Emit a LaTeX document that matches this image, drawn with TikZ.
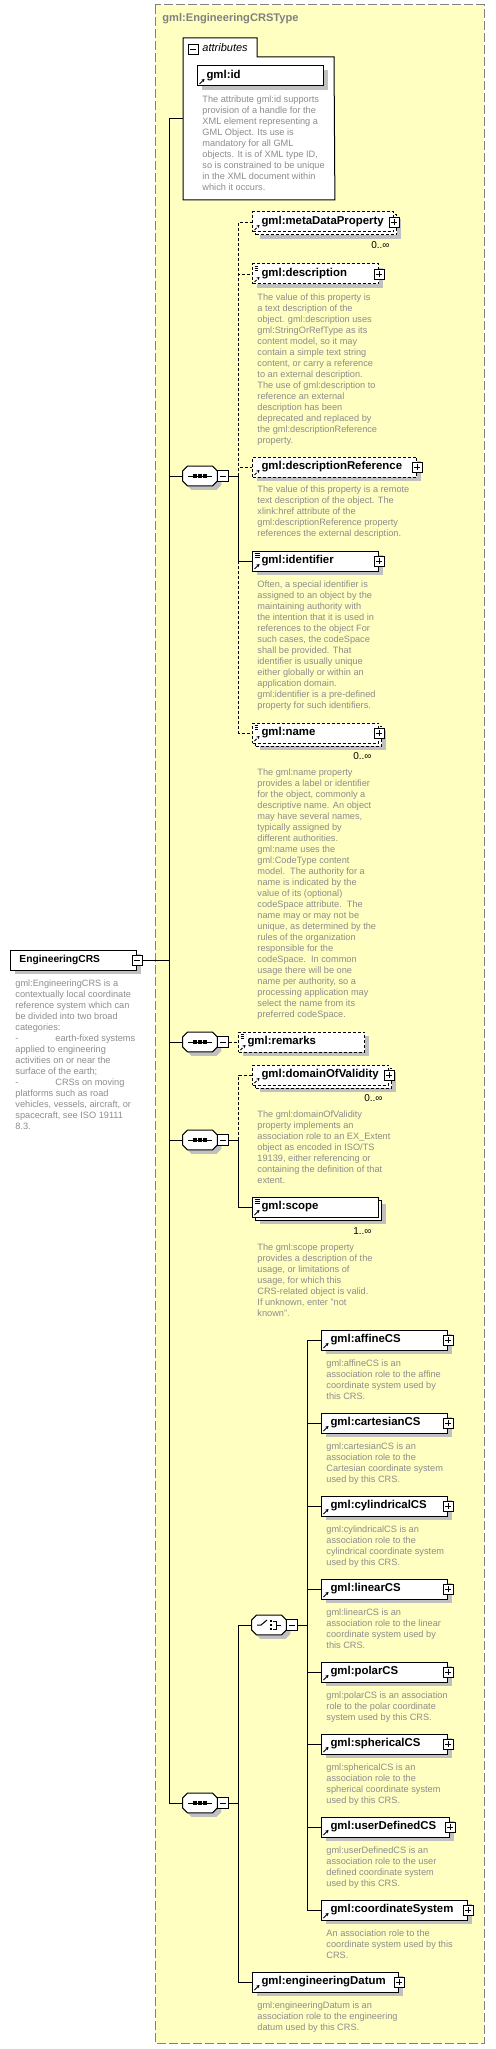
\documentclass[tikz,border=0pt]{standalone}
\usepackage{fontspec}
\setmainfont{Liberation Sans}
\usetikzlibrary{arrows.meta,shadows}
\definecolor{cttype}{RGB}{255,255,194}
\definecolor{docgray}{RGB}{140,140,140}
\definecolor{shgray}{RGB}{192,192,192}
\begin{document}
\begin{tikzpicture}[x=1pt,y=-1pt,line width=0.9pt,
 opt/.style={dash pattern=on 3pt off 2pt},
 elbase/.style={draw,fill=white,line width=1pt,anchor=west,minimum height=20pt,
  inner xsep=9pt,inner ysep=0pt,align=left,font=\fontsize{11.4}{13}\selectfont\bfseries},
 sh/.style={drop shadow={shadow xshift=4pt,shadow yshift=-4pt,fill=shgray,opacity=1}},
 shm/.style={general shadow={fill=shgray,shadow xshift=7pt,shadow yshift=-7pt},
  general shadow={draw=black,fill=white,shadow xshift=3pt,shadow yshift=-3pt}},
 ref/.style={path picture={\draw[-{Stealth[length=3pt,width=3.5pt]},line width=0.9pt]
  ([shift={(2pt,2pt)}]path picture bounding box.south west) -- ++(5pt,5pt);}},
 refdoc/.style={path picture={\draw[-{Stealth[length=3pt,width=3.5pt]},line width=0.9pt]
  ([shift={(2pt,2pt)}]path picture bounding box.south west) -- ++(5pt,5pt);
  \draw[line width=0.6pt] \foreach \k in {2,4,6} {([shift={(2pt,-\k pt)}]path picture bounding box.north west) -- ++(5pt,0pt)};}},
 el/.style={elbase,sh,ref},
 eld/.style={elbase,sh,refdoc},
 elm/.style={elbase,shm,ref},
 elmd/.style={elbase,shm,refdoc},
 plusb/.style={draw,fill=white,line width=0.8pt,minimum size=10pt,inner sep=0pt,
  path picture={\draw[line width=0.8pt] ([xshift=-3pt]path picture bounding box.center) -- ([xshift=3pt]path picture bounding box.center)
   ([yshift=-3pt]path picture bounding box.center) -- ([yshift=3pt]path picture bounding box.center);}},
 minusb/.style={draw,fill=white,line width=0.8pt,minimum size=10pt,inner sep=0pt,
  path picture={\draw[line width=0.8pt] ([xshift=-3pt]path picture bounding box.center) -- ([xshift=3pt]path picture bounding box.center);}},
 seqb/.style={minimum width=34pt,minimum height=19pt,inner sep=0pt},
 desc/.style={anchor=north west,align=left,inner sep=0pt,text=docgray,font=\fontsize{9.2}{11}\selectfont},
 occ/.style={anchor=east,inner sep=0pt,font=\fontsize{10}{12}\selectfont}]
\useasboundingbox (0,0) rectangle (495,2049);
\draw[draw=gray,line width=1pt,dash pattern=on 9pt off 3pt,fill=cttype] (155,5) rectangle (484,2043);
\node[anchor=west,inner sep=0pt,text=gray,font=\fontsize{11.1}{13}\selectfont\bfseries] (ctname) at (162,19) {gml:EngineeringCRSType};

\node[minimum width=151pt,minimum height=161pt,inner sep=0pt,anchor=north west] (attrs) at (183,38) {};
\draw[line width=1pt,fill=white] (attrs.south west) -- (attrs.north west) -- (257,38) -- (257,57) -- (334,57) -- (attrs.south east) -- cycle;
\node[minusb] (attrm) at (193,49) {};
\node[anchor=west,inner sep=0pt,font=\fontsize{11}{13}\selectfont\itshape] (attrt) at (202,48) {attributes};
\node[el,text width=108pt] (gid) at (197,76) {gml:id};
\node[desc] (gidd) at (202,95) {The attribute gml:id supports\\provision of a handle for the\\XML element representing a\\GML Object. Its use is\\mandatory for all GML\\objects. It is of XML type ID,\\so is constrained to be unique\\in the XML document within\\which it occurs.};

\node[elbase,sh,text width=108pt,font=\fontsize{10.2}{12}\selectfont\bfseries] (crs) at (10,960) {EngineeringCRS};
\node[minusb] (crsm) at (crs.east) {};
\node[desc] (crsd) at (15,979) {gml:EngineeringCRS is a\\contextually local coordinate\\reference system which can\\be divided into two broad\\categories:\\\makebox[40pt][l]{-}earth-fixed systems\\applied to engineering\\activities on or near the\\surface of the earth;\\\makebox[40pt][l]{-}CRSs on moving\\platforms such as road\\vehicles, vessels, aircraft, or\\spacecraft, see ISO 19111\\8.3.};

\node[seqb] (seq1) at (200,476) {};
\node[seqb] (seq2) at (200,1042) {};
\node[seqb] (seq3) at (200,1140) {};
\node[seqb] (seq4) at (200,1803) {};
\node[seqb] (cho) at (269,1625) {};
\foreach \s in {seq1,seq2,seq3,seq4,cho} {
 \fill[shgray,transform canvas={shift={(4pt,-4pt)}}] ([xshift=5pt]\s.north west) -- ([xshift=-5pt]\s.north east) -- ([yshift=-5pt]\s.north east) -- ([yshift=5pt]\s.south east) -- ([xshift=-5pt]\s.south east) -- ([xshift=5pt]\s.south west) -- ([yshift=5pt]\s.south west) -- ([yshift=-5pt]\s.north west) -- cycle;
 \draw[line width=1pt,fill=white] ([xshift=5pt]\s.north west) -- ([xshift=-5pt]\s.north east) -- ([yshift=-5pt]\s.north east) -- ([yshift=5pt]\s.south east) -- ([xshift=-5pt]\s.south east) -- ([xshift=5pt]\s.south west) -- ([yshift=5pt]\s.south west) -- ([yshift=-5pt]\s.north west) -- cycle;
}
\foreach \s in {seq1,seq2,seq3,seq4} {
 \draw[line width=1pt] (\s.center) +(-12pt,0pt) -- +(12pt,0pt);
 \foreach \d in {-5,0,5} \fill ([xshift=\d pt]\s.center) +(-1.7pt,-1.7pt) rectangle +(1.7pt,1.7pt);
}
\draw[line width=1pt] (cho.center) +(-12pt,0pt) -- +(-8pt,0pt) -- +(-2pt,5pt);
\foreach \d in {-4,0,4} \fill ([shift={(2pt,\d pt)}]cho.center) +(-1.3pt,-1.3pt) rectangle +(1.3pt,1.3pt);
\draw[line width=0.9pt] (cho.center) +(3.5pt,4pt) -- +(7pt,4pt) -- +(7pt,-4pt) -- +(3.5pt,-4pt) +(7pt,0pt) -- +(12pt,0pt);
\foreach \s/\m in {seq1/s1m,seq2/s2m,seq3/s3m,seq4/s4m,cho/chom}
 \node[minusb,minimum size=11pt,anchor=west] (\m) at (\s.east) {};

\node[elm,opt,text width=123pt] (meta) at (252,222) {gml:metaDataProperty};
\node[plusb] (metap) at (meta.east) {};
\node[occ] (metao) at (390,245) {0..∞};
\node[eld,opt,text width=108pt] (descr) at (252,274) {gml:description};
\node[plusb] (descrp) at (descr.east) {};
\node[desc] (descrd) at (257,293) {The value of this property is\\a text description of the\\object. gml:description uses\\gml:StringOrRefType as its\\content model, so it may\\contain a simple text string\\content, or carry a reference\\to an external description.\\The use of gml:description to\\reference an external\\description has been\\deprecated and replaced by\\the gml:descriptionReference\\property.};
\node[el,opt,text width=146pt] (dref) at (252,467) {gml:descriptionReference};
\node[plusb] (drefp) at (dref.east) {};
\node[desc] (drefd) at (257,485) {The value of this property is a remote\\text description of the object. The\\xlink:href attribute of the\\gml:descriptionReference property\\references the external description.};
\node[eld,text width=108pt] (ident) at (252,561) {gml:identifier};
\node[plusb] (identp) at (ident.east) {};
\node[desc] (identd) at (257,580) {Often, a special identifier is\\assigned to an object by the\\maintaining authority with\\the intention that it is used in\\references to the object For\\such cases, the codeSpace\\shall be provided. That\\identifier is usually unique\\either globally or within an\\application domain.\\gml:identifier is a pre-defined\\property for such identifiers.};
\node[elmd,opt,text width=108pt] (name) at (252,733) {gml:name};
\node[plusb] (namep) at (name.east) {};
\node[occ] (nameo) at (372,756) {0..∞};
\node[desc] (named) at (257,768) {The gml:name property\\provides a label or identifier\\for the object, commonly a\\descriptive name. An object\\may have several names,\\typically assigned by\\different authorities.\\gml:name uses the\\gml:CodeType content\\model.\ \ The authority for a\\name is indicated by the\\value of its (optional)\\codeSpace attribute.\ \ The\\name may or may not be\\unique, as determined by the\\rules of the organization\\responsible for the\\codeSpace.\ \ In common\\usage there will be one\\name per authority, so a\\processing application may\\select the name from its\\preferred codeSpace.};

\node[eld,opt,text width=108pt] (rem) at (238,1042) {gml:remarks};

\node[elm,opt,text width=118pt] (dov) at (252,1075) {gml:domainOfValidity};
\node[plusb] (dovp) at (dov.east) {};
\node[occ] (dovo) at (383,1098) {0..∞};
\node[desc] (dovd) at (257,1110) {The gml:domainOfValidity\\property implements an\\association role to an EX\_Extent\\object as encoded in ISO/TS\\19139, either referencing or\\containing the definition of that\\extent.};
\node[elmd,text width=108pt] (scope) at (252,1207) {gml:scope};
\node[occ] (scopeo) at (372,1231) {1..∞};
\node[desc] (scoped) at (257,1243) {The gml:scope property\\provides a description of the\\usage, or limitations of\\usage, for which this\\CRS-related object is valid.\\If unknown, enter "not\\known".};

\node[el,text width=108pt] (affine) at (321,1340) {gml:affineCS};
\node[plusb] (affinep) at (affine.east) {};
\node[desc] (affined) at (326,1359) {gml:affineCS is an\\association role to the affine\\coordinate system used by\\this CRS.};
\node[el,text width=108pt] (cart) at (321,1423) {gml:cartesianCS};
\node[plusb] (cartp) at (cart.east) {};
\node[desc] (cartd) at (326,1442) {gml:cartesianCS is an\\association role to the\\Cartesian coordinate system\\used by this CRS.};
\node[el,text width=108pt] (cyl) at (321,1506) {gml:cylindricalCS};
\node[plusb] (cylp) at (cyl.east) {};
\node[desc] (cyld) at (326,1525) {gml:cylindricalCS is an\\association role to the\\cylindrical coordinate system\\used by this CRS.};
\node[el,text width=108pt] (lin) at (321,1589) {gml:linearCS};
\node[plusb] (linp) at (lin.east) {};
\node[desc] (lind) at (326,1608) {gml:linearCS is an\\association role to the linear\\coordinate system used by\\this CRS.};
\node[el,text width=108pt] (polar) at (321,1672) {gml:polarCS};
\node[plusb] (polarp) at (polar.east) {};
\node[desc] (polard) at (326,1691) {gml:polarCS is an association\\role to the polar coordinate\\system used by this CRS.};
\node[el,text width=108pt] (sph) at (321,1744) {gml:sphericalCS};
\node[plusb] (sphp) at (sph.east) {};
\node[desc] (sphd) at (326,1763) {gml:sphericalCS is an\\association role to the\\spherical coordinate system\\used by this CRS.};
\node[el,text width=110pt] (udef) at (321,1827) {gml:userDefinedCS};
\node[plusb] (udefp) at (udef.east) {};
\node[desc] (udefd) at (326,1846) {gml:userDefinedCS is an\\association role to the user\\defined coordinate system\\used by this CRS.};
\node[el,text width=128pt] (csys) at (321,1910) {gml:coordinateSystem};
\node[plusb] (csysp) at (csys.east) {};
\node[desc] (csysd) at (326,1929) {An association role to the\\coordinate system used by this\\CRS.};
\node[el,text width=128pt] (edat) at (252,1982) {gml:engineeringDatum};
\node[plusb] (edatp) at (edat.east) {};
\node[desc] (edatd) at (257,2001) {gml:engineeringDatum is an\\association role to the engineering\\datum used by this CRS.};

\coordinate (sp) at (169,0);
\draw (attrs.west) -- (attrs.west -| sp) -- (seq4.west -| sp) -- (seq4.west);
\draw (crsm.east) -- (crsm.east -| sp);
\draw (seq1.west -| sp) -- (seq1.west);
\draw (seq2.west -| sp) -- (seq2.west);
\draw (seq3.west -| sp) -- (seq3.west);
\draw (s1m.east) -- ++(9.5,0) coordinate (b1);
\draw[opt] (b1) |- (meta.west);
\draw[opt] (b1) |- (descr.west);
\draw[opt] (b1) |- (dref.west);
\draw[opt] (b1) |- (name.west);
\draw (b1) |- (ident.west);
\draw[opt] (s2m.east) -- (rem.west);
\draw (s3m.east) -- ++(9.5,0) coordinate (b3);
\draw[opt] (b3) |- (dov.west);
\draw (b3) |- (scope.west);
\draw (s4m.east) -- ++(9.5,0) coordinate (b4);
\draw (b4) |- (cho.west);
\draw (b4) |- (edat.west);
\draw (chom.east) -- ++(9,0) coordinate (bc);
\foreach \n in {affine,cart,cyl,lin,polar,sph,udef,csys} \draw (bc) |- (\n.west);
\end{tikzpicture}
\end{document}
